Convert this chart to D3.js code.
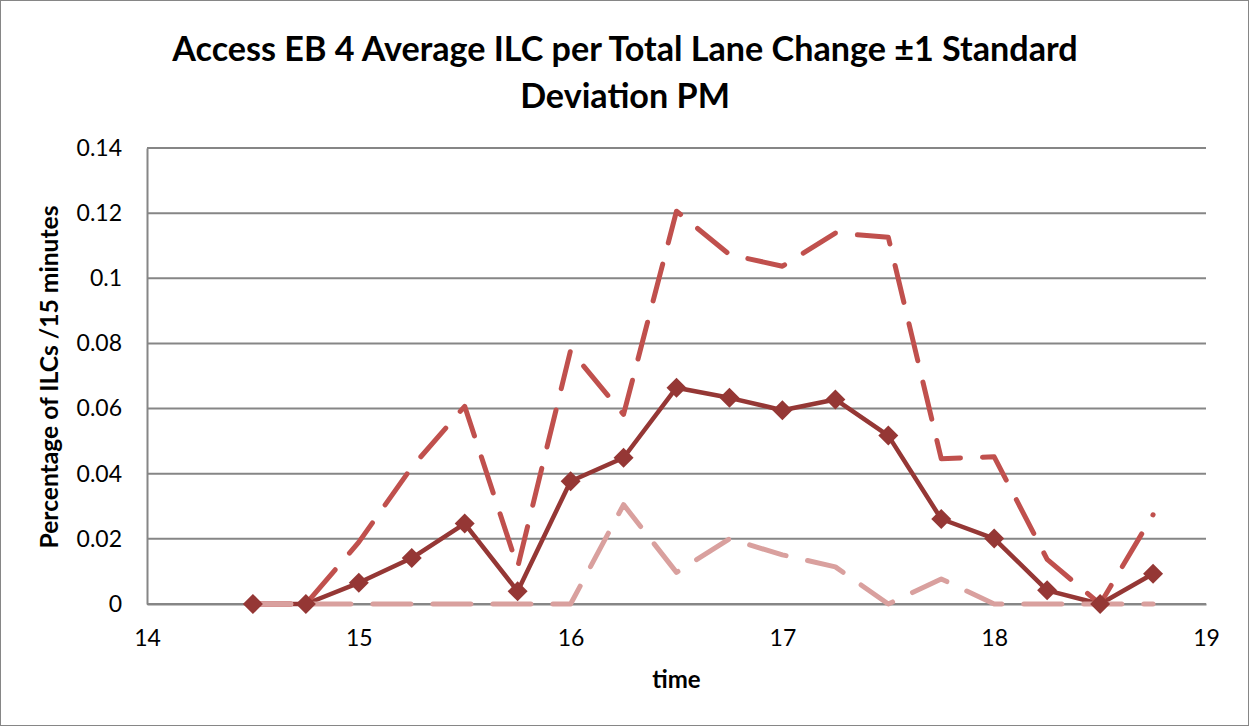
<!DOCTYPE html>
<html><head><meta charset="utf-8">
<script src="https://cdn.jsdelivr.net/npm/d3@7"></script>
<style>
html,body{margin:0;padding:0;background:#fff;}
svg text{font-family:Lato,"Open Sans",sans-serif;fill:#000;}
</style></head>
<body>
<svg id="chart" width="1249" height="726"></svg>
<script>
const times = [14.5,14.75,15,15.25,15.5,15.75,16,16.25,16.5,16.75,17,17.25,17.5,17.75,18,18.25,18.5,18.75];
const meanValues = [0,0,0.0065,0.0141,0.0247,0.0039,0.0377,0.0449,0.0664,0.0633,0.0595,0.0628,0.0517,0.0261,0.0201,0.0042,0,0.0093];
const upperValues = [0,0,0.019,0.042,0.0607,0.0113,0.0779,0.0582,0.1206,0.1073,0.1037,0.1139,0.1126,0.0446,0.0452,0.0137,0,0.0274];
const lowerValues = [0,0,0,0,0,0,0,0.0305,0.0097,0.02,0.0151,0.0114,0,0.0077,0,0,0,0];
const xTicks = [14,15,16,17,18,19];
const yTicks = [0,0.02,0.04,0.06,0.08,0.1,0.12,0.14];
const titleLines = ["Access EB 4 Average ILC per Total Lane Change \u00b11 Standard","Deviation PM"];
const xTitle = "time";
const yTitle = "Percentage of ILCs /15 minutes";

const svg = d3.select("#chart");
svg.append("rect").attr("x",0.5).attr("y",0.5).attr("width",1248).attr("height",725)
  .attr("fill","#fff").attr("stroke","#868686").attr("stroke-width",1);

const x = d3.scaleLinear().domain([14,19]).range([147,1206]);
const y = d3.scaleLinear().domain([0,0.14]).range([604,148]);

// gridlines
svg.append("g").selectAll("line").data(yTicks).join("line")
  .attr("x1",x(14)).attr("x2",x(19)).attr("y1",d=>y(d)).attr("y2",d=>y(d))
  .attr("stroke","#868686").attr("stroke-width",2);

// y axis
const yAxis = svg.append("g").attr("transform",`translate(${x(14)},0)`)
  .call(d3.axisLeft(y).tickValues(yTicks).tickSize(0).tickPadding(25).tickFormat(d=>String(+d.toFixed(2))));
yAxis.select(".domain").attr("stroke","#868686").attr("stroke-width",2);
yAxis.selectAll("text").attr("font-size",23).style("font-family","Lato, sans-serif").attr("fill","#000");

// x axis
const xAxis = svg.append("g").attr("transform",`translate(0,${y(0)})`)
  .call(d3.axisBottom(x).tickValues(xTicks).tickSize(0).tickPadding(26).tickFormat(d3.format("d")));
xAxis.select(".domain").attr("stroke","#868686").attr("stroke-width",2);
xAxis.selectAll("text").attr("font-size",23).style("font-family","Lato, sans-serif").attr("fill","#000");

const line = d3.line().x((d,i)=>x(times[i])).y(d=>y(d));

// mean
svg.append("path").datum(meanValues).attr("d",line).attr("fill","none")
  .attr("stroke","#953735").attr("stroke-width",4.5).attr("stroke-linejoin","round");
// upper
svg.append("path").datum(upperValues).attr("d",line).attr("fill","none")
  .attr("stroke","#C0504D").attr("stroke-width",5).attr("stroke-dasharray","38 22").attr("stroke-linecap","round").attr("stroke-linejoin","round");
// lower
svg.append("path").datum(lowerValues).attr("d",line).attr("fill","none")
  .attr("stroke","#D9A09E").attr("stroke-width",5).attr("stroke-dasharray","38 22").attr("stroke-linecap","round").attr("stroke-linejoin","round");

// markers
svg.append("g").selectAll("path").data(meanValues).join("path")
  .attr("transform",(d,i)=>`translate(${x(times[i])},${y(d)})`)
  .attr("d","M0,-10L10,0L0,10L-10,0Z").attr("fill","#953735");

// titles
const t = svg.append("g");
titleLines.forEach((s,i)=>{
  t.append("text").attr("x",625).attr("y",[61,108][i]).attr("text-anchor","middle")
   .attr("font-size",31).attr("font-weight","bold").text(s);
});
const t1 = t.select("text").node();
const fs = 31*906/t1.getComputedTextLength();
t.selectAll("text").attr("font-size",fs);

svg.append("text").attr("x",(x(14)+x(19))/2).attr("y",688).attr("text-anchor","middle")
  .attr("font-size",24).attr("font-weight","bold").text(xTitle);
const yt = svg.append("text").attr("transform",`translate(58,${(y(0)+y(0.14))/2+1}) rotate(-90)`).attr("text-anchor","middle")
  .attr("font-size",20).attr("font-weight","bold").text(yTitle);
yt.attr("font-size",20*343/yt.node().getComputedTextLength());
</script>
</body></html>
